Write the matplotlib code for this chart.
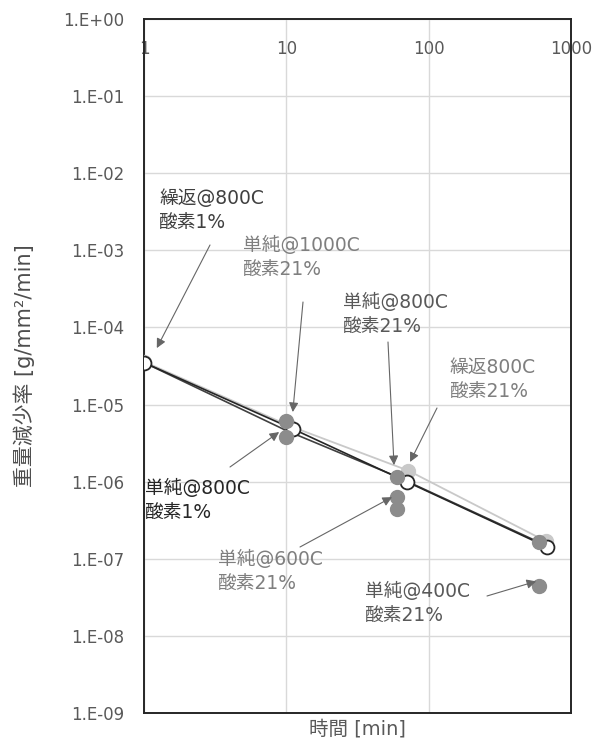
import numpy as np
import matplotlib.pyplot as plt
from matplotlib.ticker import FixedLocator, NullLocator

plt.rcParams['font.family'] = ['DejaVu Sans', 'Noto Sans CJK JP']

# 繰返 (cyclic) tests: 800C, O2 1%
x_cyc1 = [1, 11.2, 70, 676]
y_cyc1 = [3.5e-5, 4.8e-6, 1.0e-6, 1.43e-7]

# 繰返 (cyclic) tests: 800C, O2 21%
x_cyc21 = [1, 10.5, 72, 670]
y_cyc21 = [3.6e-5, 5.3e-6, 1.39e-6, 1.68e-7]

# 単純 (single) tests, 800C trend
x_s800 = [1, 10, 60, 600]
y_s800 = [3.5e-5, 4.6e-6, 1.16e-6, 1.63e-7]

# 単純 (single) tests, individual points
x_s1000 = [10]
y_s1000 = [6.2e-6]
x_s800_1 = [10]
y_s800_1 = [3.75e-6]
x_s800_21 = [60, 600]
y_s800_21 = [1.16e-6, 1.63e-7]
x_s600 = [60, 60]
y_s600 = [6.4e-7, 4.4e-7]
x_s400 = [600]
y_s400 = [4.5e-8]

yticks = [10.0 ** k for k in range(0, -10, -1)]
ytick_labels = ['1.E+00', '1.E-01', '1.E-02', '1.E-03', '1.E-04',
                '1.E-05', '1.E-06', '1.E-07', '1.E-08', '1.E-09']
xticks = [1, 10, 100, 1000]
xtick_labels = ['1', '10', '100', '1000']

W, H = 606, 742
fig = plt.figure(figsize=(W / 100, H / 100), dpi=100)
ax = fig.add_axes([144 / W, 1 - 713 / H, 427 / W, 694 / H])
ax.set_xscale('log')
ax.set_yscale('log')
ax.set_xlim(1, 1000)
ax.set_ylim(1e-9, 1)

ax.grid(True, which='major', color='#d9d9d9', lw=1.0)
ax.set_axisbelow(True)
for s in ax.spines.values():
    s.set_color('#262626')
    s.set_linewidth(1.4)

ax.xaxis.set_major_locator(FixedLocator(xticks))
ax.xaxis.set_minor_locator(NullLocator())
ax.set_xticklabels(xtick_labels)
ax.yaxis.set_major_locator(FixedLocator(yticks))
ax.yaxis.set_minor_locator(NullLocator())
ax.set_yticklabels(ytick_labels)

# x labels sit just under the top spine, inside the plot
ax.xaxis.set_ticks_position('top')
ax.tick_params(axis='x', length=0, labelsize=12, labelcolor='#595959',
               pad=-28)
ax.tick_params(axis='y', length=0, labelsize=12, labelcolor='#595959',
               pad=14)

mk = 10
ax.plot(x_cyc21, y_cyc21, '-o', color='#c9c9c9', lw=1.3, ms=mk,
        mfc='#c9c9c9', mec='#c9c9c9', zorder=3)
ax.plot(x_s800, y_s800, '-', color='#404040', lw=1.2, zorder=3)
ax.plot(x_cyc1, y_cyc1, '-o', color='#262626', lw=1.2, ms=mk,
        mfc='white', mec='#262626', mew=1.3, zorder=4)

for xs, ys in [(x_s1000, y_s1000), (x_s800_1, y_s800_1),
               (x_s800_21, y_s800_21), (x_s600, y_s600), (x_s400, y_s400)]:
    ax.plot(xs, ys, 'o', ms=mk, mfc='#8c8c8c', mec='#8c8c8c', zorder=5)

# callouts: text (left x, centre y in pixels), arrow start in pixels,
# arrow tip in data coordinates
notes = [
    ('繰返@800C\n酸素1%', 159, 211, '#404040', (210, 245), (1.23, 5.4e-5)),
    ('単純@1000C\n酸素21%', 243, 258, '#7f7f7f', (303, 302), (11.1, 8.0e-6)),
    ('単純@800C\n酸素21%', 343, 315, '#595959', (388, 342), (57.1, 1.64e-6)),
    ('繰返800C\n酸素21%', 450, 380, '#7f7f7f', (437, 408), (74, 1.8e-6)),
    ('単純@800C\n酸素1%', 145, 501, '#262626', (230, 467), (8.9, 4.4e-6)),
    ('単純@600C\n酸素21%', 218, 572, '#7f7f7f', (300, 547), (55.3, 6.3e-7)),
    ('単純@400C\n酸素21%', 365, 604, '#595959', (487, 596), (569, 5.1e-8)),
]
for text, tx, ty, color, start, tip in notes:
    fig.text(tx / W, 1 - ty / H, text, fontsize=13.5, color=color,
             ha='left', va='center', linespacing=1.4)
    ax.annotate('', xy=tip, xycoords='data',
                xytext=(start[0], H - start[1]), textcoords='figure pixels',
                arrowprops=dict(arrowstyle='-|>', color='#666666', lw=0.8,
                                mutation_scale=14, shrinkA=0, shrinkB=0),
                zorder=6)

fig.text(357 / W, 1 - 729 / H, '時間 [min]', fontsize=14, color='#595959',
         ha='center', va='center')
fig.text(24 / W, 1 - 366 / H, '重量減少率 [g/mm²/min]', fontsize=15,
         color='#4d4d4d', ha='center', va='center', rotation=90)

fig.savefig('out.png', dpi=100)
